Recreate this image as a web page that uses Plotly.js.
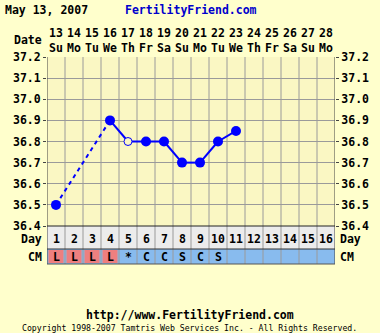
<!DOCTYPE html>
<html>
<head>
<meta charset="utf-8">
<script src="https://cdn.plot.ly/plotly-3.0.1.min.js"></script>
<style>
html,body{margin:0;padding:0;background:#ffffcc;}
#chart{width:380px;height:333px;}
</style>
</head>
<body>
<div id="chart"></div>
<script>
// ---- data ----
var cycleDays = [1,2,3,4,5,6,7,8,9,10,11,12,13,14,15,16];
var dates = ['13','14','15','16','17','18','19','20','21','22','23','24','25','26','27','28'];
var weekdays = ['Su','Mo','Tu','We','Th','Fr','Sa','Su','Mo','Tu','We','Th','Fr','Sa','Su','Mo'];
var temps = [36.5,null,null,36.9,36.8,36.8,36.8,36.7,36.7,36.8,36.85,null,null,null,null,null];
var openTemps = [false,false,false,false,true,false,false,false,false,false,false,false,false,false,false,false];
var cervicalMucus = ['L','L','L','L','*','C','C','S','C','S','','','','','',''];
var yTicks = [36.4,36.5,36.6,36.7,36.8,36.9,37.0,37.1,37.2];
var yTickLabels = ['36.4','36.5','36.6','36.7','36.8','36.9','37.0','37.1','37.2'];
var chartDate = 'May 13, 2007';
var siteName = 'FertilityFriend.com';
var siteUrl = 'http://www.FertilityFriend.com';
var copyright = 'Copyright 1998-2007 Tamtris Web Services Inc. - All Rights Reserved.';

// ---- layout helpers ----
var W = 380, H = 333;
var L = 47, R = 335, T = 57, B = 264;
var pw = R - L, ph = B - T;
function py(Y){ return (B - Y) / ph; }
function px(X){ return (X - L) / pw; }
var FONT = '"DejaVu Sans Mono", monospace';
var BG = '#ffffcc', PLOTBG = '#faf7c3', BLUE = '#0000ff', GRID = '#9a9a9a';

// solid segments: consecutive known points; dashed: bridging gaps
var solidX = [], solidY = [], dashX = [], dashY = [];
var lastIdx = -1;
for (var i = 0; i < temps.length; i++) {
  if (temps[i] === null) continue;
  if (lastIdx >= 0) {
    if (i - lastIdx === 1) {
      solidX.push(cycleDays[lastIdx], cycleDays[i], null);
      solidY.push(temps[lastIdx], temps[i], null);
    } else {
      dashX.push(cycleDays[lastIdx], cycleDays[i], null);
      dashY.push(temps[lastIdx], temps[i], null);
    }
  }
  lastIdx = i;
}
var filledX = [], filledY = [], openX = [], openY = [];
temps.forEach(function(t, i){
  if (t === null) return;
  if (openTemps[i]) { openX.push(cycleDays[i]); openY.push(t); }
  else { filledX.push(cycleDays[i]); filledY.push(t); }
});

var traces = [
  {x: dashX, y: dashY, mode: 'lines', line: {color: BLUE, width: 2, dash: '4px,4px'}, hoverinfo: 'skip'},
  {x: solidX, y: solidY, mode: 'lines', line: {color: BLUE, width: 2}, hoverinfo: 'skip'},
  {x: filledX, y: filledY, mode: 'markers', marker: {color: BLUE, size: 10, line: {width: 0}}},
  {x: openX, y: openY, mode: 'markers', marker: {color: PLOTBG, size: 8, line: {color: BLUE, width: 1}}},
  {x: [cycleDays[0]], y: [yTicks[0]], yaxis: 'y2', mode: 'markers', marker: {opacity: 0}, hoverinfo: 'skip'}
];

var shapes = [], annotations = [];
var rowTop = py(226), rowMid = py(249), rowBot = py(264);
// row backgrounds
shapes.push({type:'rect', xref:'paper', yref:'paper', x0:0, x1:1, y0:rowMid, y1:rowTop, fillcolor:'#ececec', line:{width:0}, layer:'below'});
shapes.push({type:'rect', xref:'paper', yref:'paper', x0:0, x1:1, y0:rowBot, y1:rowMid, fillcolor:'#88bbee', line:{width:0}, layer:'below'});
cervicalMucus.forEach(function(c, i){
  if (c === 'L') {
    shapes.push({type:'rect', xref:'x', yref:'paper', x0:cycleDays[i]-0.42, x1:cycleDays[i]+0.42, y0:py(263), y1:py(250), fillcolor:'#ee7f7f', line:{width:0}, layer:'below'});
  }
});
// vertical grid lines through everything
for (var k = 0; k <= cycleDays.length; k++) {
  var edge = (k === 0 || k === cycleDays.length);
  shapes.push({type:'line', xref:'x', yref:'paper', x0:k+0.5, x1:k+0.5, y0:0, y1:1,
    line:{color: edge ? '#444444' : GRID, width: 1}, layer: edge ? 'above' : 'below'});
}
// horizontal separators
[[py(226),'#222222'],[py(249),'#333333'],[0,'#555555']].forEach(function(s){
  shapes.push({type:'line', xref:'paper', yref:'paper', x0:0, x1:1, y0:s[0], y1:s[0], line:{color:s[1], width:1}, layer:'above'});
});

// header / row labels
function ann(o){ annotations.push(Object.assign({showarrow:false, xanchor:'center', yanchor:'middle', font:{family:FONT, size:11.5, color:'#000000', weight:'bold'}}, o)); }
cycleDays.forEach(function(d, i){
  ann({x:d, xref:'x', yref:'paper', y:py(40), text:dates[i] + '<br>' + weekdays[i]});
  ann({x:d, xref:'x', yref:'paper', y:py(238.5), text:String(d)});
  if (cervicalMucus[i]) ann({x:d, xref:'x', yref:'paper', y:py(257), text:cervicalMucus[i]});
});
ann({x:px(44), xref:'paper', xanchor:'right', yref:'paper', y:py(39.5), text:'Date'});
ann({x:px(44), xref:'paper', xanchor:'right', yref:'paper', y:py(238.5), text:'Day'});
ann({x:px(44), xref:'paper', xanchor:'right', yref:'paper', y:py(257), text:'CM'});
ann({x:px(337.5), xref:'paper', xanchor:'left', yref:'paper', y:py(238.5), text:'Day'});
ann({x:px(337.5), xref:'paper', xanchor:'left', yref:'paper', y:py(257), text:'CM'});
ann({x:px(2.5), xref:'paper', xanchor:'left', yref:'paper', y:py(10.5), text:chartDate});
ann({x:px(122.5), xref:'paper', xanchor:'left', yref:'paper', y:py(10.5), text:siteName, font:{family:FONT, size:11.5, color:'#0000cc', weight:'bold'}});
ann({x:px(189.5), xref:'paper', xanchor:'center', yref:'paper', y:py(314.5), text:siteUrl});
ann({x:px(189.5), xref:'paper', xanchor:'center', yref:'paper', y:py(328), text:copyright, font:{family:FONT, size:8.2, color:'#000000'}});

var axisFont = {family: FONT, size: 11.5, color: '#000000', weight: 'bold'};
var layout = {
  width: W, height: H,
  margin: {l: L, r: W - R, t: T, b: H - B, pad: 0},
  paper_bgcolor: BG, plot_bgcolor: PLOTBG,
  showlegend: false,
  xaxis: {range: [0.5, 16.5], showgrid: false, zeroline: false, showticklabels: false, ticks: '', showline: false, fixedrange: true},
  yaxis: {domain: [1 - (226 - T) / ph, 1], range: [36.4, 37.2], tickvals: yTicks, ticktext: yTickLabels,
    showgrid: true, gridcolor: GRID, gridwidth: 1, zeroline: false,
    ticks: 'outside', ticklen: 3, tickcolor: '#444444', tickfont: axisFont, showline: false, fixedrange: true},
  yaxis2: {domain: [1 - (226 - T) / ph, 1], range: [36.4, 37.2], tickvals: yTicks, ticktext: yTickLabels,
    overlaying: 'y', side: 'right', anchor: 'x', showgrid: false, zeroline: false,
    ticks: 'outside', ticklen: 3, tickcolor: '#444444', tickfont: axisFont, showline: false, fixedrange: true},
  shapes: shapes,
  annotations: annotations
};

Plotly.newPlot('chart', traces, layout, {displayModeBar: false, staticPlot: true});
</script>
</body>
</html>
